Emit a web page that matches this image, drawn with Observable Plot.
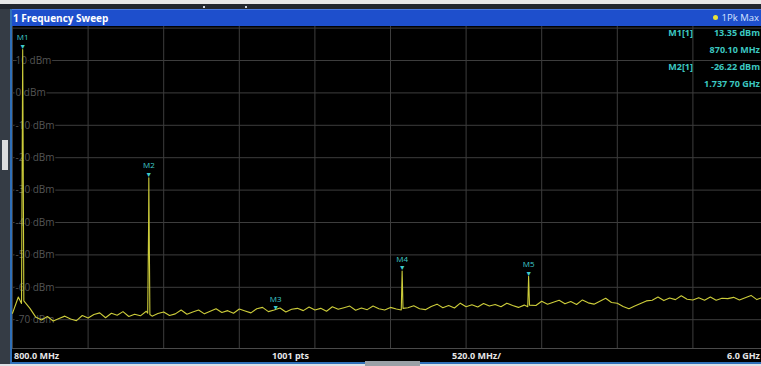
<!DOCTYPE html>
<html><head><meta charset="utf-8">
<script src="https://cdn.jsdelivr.net/npm/d3@7"></script>
<script src="https://cdn.jsdelivr.net/npm/@observablehq/plot@0.6"></script>
<style>
html,body{margin:0;padding:0;background:#fff;overflow:hidden;width:761px;height:366px}
#wrap{position:relative;width:761px;height:366px;overflow:hidden;background:#000;font-family:"Open Sans",sans-serif}
.abs{position:absolute}
#topw{left:0;top:0;width:761px;height:4px;background:#e8e8e8}
#topd{left:0;top:4px;width:761px;height:5px;background:#23272e}
.tdot{top:6px;width:2px;height:2px;background:#cfd4da}
#title{left:10px;top:9px;width:751px;height:17px;background:#1e4fcc;border-top:1px solid #4b7be2;box-sizing:border-box}
#title .t{left:3px;top:0;line-height:16px;font-size:10px;font-weight:700;color:#fff}
#title .r{right:2px;top:0;line-height:16px;font-size:9.5px;color:#d6e4ff;white-space:nowrap}
#title .r span{display:inline-block;width:5px;height:5px;border-radius:50%;background:#e9e23a;margin-right:4px;vertical-align:1px}
#lstrip{left:0;top:9px;width:10px;height:355px;background:#353c45}
#thumb{left:2px;top:140px;width:6px;height:30px;background:#dcdcdc}
#lborder{left:10px;top:9px;width:2px;height:355px;background:#2f70b8}
#chart{left:12px;top:26px}
#foot{left:12px;top:348px;width:749px;height:14px;border-top:1px solid #4a4a4a;box-sizing:border-box;background:#000}
.ft{top:0;line-height:13px;font-size:9px;font-weight:700;color:#e6e6e6;white-space:nowrap}
#bblue{left:10px;top:362px;width:751px;height:2px;background:#2f70b8}
#bwhite{left:0;top:364px;width:761px;height:2px;background:#dfe2e6}
#tab{left:365px;top:361px;width:55px;height:5px;background:#9aa0a6}
.ro{font-size:9px;font-weight:700;color:#3cc8c0;white-space:nowrap;line-height:12px}
</style></head><body><div id="wrap">
<div class="abs" id="topw"></div>
<div class="abs" id="topd"></div>
<div class="abs tdot" style="left:203px"></div>
<div class="abs tdot" style="left:245px"></div>
<div class="abs" id="lstrip"></div>
<div class="abs" id="thumb"></div>
<div class="abs" id="title"><div class="abs t">1 Frequency Sweep</div><div class="abs r"><span></span>1Pk Max</div></div>
<div class="abs" id="lborder"></div>
<div class="abs" id="chart"></div>
<div class="abs" id="foot"></div>
<div class="abs" id="bblue"></div>
<div class="abs" id="bwhite"></div>
<div class="abs" id="tab"></div>
</div>
<script>
// sweep settings
const startMHz = 800, stopMHz = 6000, stepMHz = 40;
// noise floor trace (dBm), one value every stepMHz starting at startMHz
const noiseDbm = [
-68.0,-63.0,-64.3,-66.5,-69.2,-70.1,-69.0,-70.4,-69.6,-68.9,
-69.8,-70.3,-68.7,-69.5,-68.4,-67.9,-69.4,-68.0,-68.6,-67.5,
-69.0,-68.3,-68.8,-67.4,-68.9,-68.1,-67.6,-68.7,-68.2,-67.0,
-68.3,-67.6,-67.0,-68.2,-67.4,-66.6,-67.8,-67.2,-68.0,-66.7,
-67.3,-67.9,-66.6,-66.2,-67.5,-67.0,-66.4,-67.6,-66.8,-66.5,
-67.2,-66.1,-67.0,-66.5,-67.4,-66.0,-66.8,-66.3,-65.8,-67.1,
-66.4,-66.9,-65.8,-66.6,-67.0,-66.2,-66.7,-67.1,-66.3,-65.7,
-66.6,-66.9,-65.9,-65.2,-66.3,-65.6,-66.4,-64.9,-66.0,-65.4,
-66.1,-65.0,-65.8,-65.3,-66.0,-64.9,-65.6,-66.2,-65.5,-64.8,
-65.6,-64.3,-65.2,-64.6,-64.0,-65.1,-64.4,-65.3,-63.9,-64.8,
-65.2,-64.3,-63.4,-64.7,-64.9,-65.9,-66.6,-65.8,-65.0,-64.2,
-64.0,-63.0,-64.1,-63.3,-63.8,-62.6,-63.7,-63.9,-63.2,-64.0,
-63.0,-64.0,-63.4,-63.5,-63.1,-63.9,-63.2,-62.5,-63.8,-63.1,
-63.7];
// harmonic spikes: [MHz, dBm]
const spikeMHz = [862, 870.1, 878, 1730, 1736, 1737.7, 1740, 1745, 3474, 3480, 3486, 4344, 4350, 4356];
const spikeDbm = [-65.0, 13.35, -64.2, -68.0, -41.5, -26.22, -40.0, -68.4, -67.0, -55.0, -66.5, -66.0, -56.6, -65.5];
// markers
const markerNames = ["M1", "M2", "M3", "M4", "M5"];
const markerMHz = [870.1, 1737.7, 2610, 3480, 4350];
const markerDbm = [13.35, -26.22, -67.3, -55.0, -56.6];
// grid and labels
const gridDbm = [20, 10, 0, -10, -20, -30, -40, -50, -60, -70];
const yTickDbm = [10, 0, -10, -20, -30, -40, -50, -60, -70];
const gridMHz = [800, 1320, 1840, 2360, 2880, 3400, 3920, 4440, 4960, 5480, 6000];
// marker readout table
const readoutNames = ["M1[1]", "M2[1]"];
const readoutLevels = ["13.35 dBm", "-26.22 dBm"];
const readoutFreqs = ["870.10 MHz", "1.737 70 GHz"];
// footer
const footerTexts = ["800.0 MHz", "1001 pts", "520.0 MHz/", "6.0 GHz"];

// build trace
const spikes = spikeMHz.map((f, i) => ({f, v: spikeDbm[i]}));
const noise = noiseDbm.map((v, i) => ({f: startMHz + i * stepMHz, v}))
  .filter(d => !spikeMHz.some(s => Math.abs(s - d.f) < 8));
const trace = noise.concat(spikes).sort((a, b) => a.f - b.f);
const markers = markerNames.map((n, i) => ({n, f: markerMHz[i], v: markerDbm[i]}));

const cyan = "#3fcccc";
const chart = Plot.plot({
  width: 749, height: 322,
  margin: 0,
  style: {background: "#000", fontFamily: "Open Sans, sans-serif", overflow: "hidden"},
  x: {domain: [startMHz, stopMHz], range: [0, 756], axis: null},
  y: {domain: [-80, 20], range: [325.6, 1.6], axis: null},
  marks: [
    Plot.ruleY(gridDbm, {y: d => d, stroke: "#3d3d3d", strokeWidth: 1}),
    Plot.ruleX(gridMHz, {x: d => d, stroke: "#3d3d3d", strokeWidth: 1}),
    Plot.text(yTickDbm, {x: startMHz, y: d => d, text: d => `${d} dBm`, dx: 3, textAnchor: "start",
      fill: "#555555", stroke: "#000", strokeWidth: 3, fontSize: 10}),
    Plot.line(trace, {x: "f", y: "v", stroke: "#cccc3a", strokeWidth: 1.1, curve: "linear"}),
    Plot.text(markers, {x: "f", y: "v", text: () => "\u25BC", fill: cyan, fontSize: 7, dy: -3}),
    Plot.text(markers, {x: "f", y: "v", text: "n", fill: cyan, fontSize: 8, dy: -12})
  ]
});
document.getElementById("chart").appendChild(chart);

// readout table
const wrap = document.getElementById("wrap");
const rowY = [27, 44, 61, 78];
readoutNames.forEach((n, i) => {
  const a = document.createElement("div");
  a.className = "abs ro"; a.textContent = n;
  a.style.right = (761 - 693) + "px"; a.style.top = rowY[i * 2] + "px";
  wrap.appendChild(a);
  const b = document.createElement("div");
  b.className = "abs ro"; b.textContent = readoutLevels[i];
  b.style.right = "1px"; b.style.top = rowY[i * 2] + "px";
  wrap.appendChild(b);
  const c = document.createElement("div");
  c.className = "abs ro"; c.textContent = readoutFreqs[i];
  c.style.right = "1px"; c.style.top = rowY[i * 2 + 1] + "px";
  wrap.appendChild(c);
});
// footer labels
const foot = document.getElementById("foot");
const footPos = [{left: "2px"}, {left: "260px"}, {left: "440px"}, {right: "1px"}];
footerTexts.forEach((t, i) => {
  const d = document.createElement("div");
  d.className = "abs ft"; d.textContent = t;
  Object.assign(d.style, footPos[i]);
  foot.appendChild(d);
});
</script>
</body></html>
